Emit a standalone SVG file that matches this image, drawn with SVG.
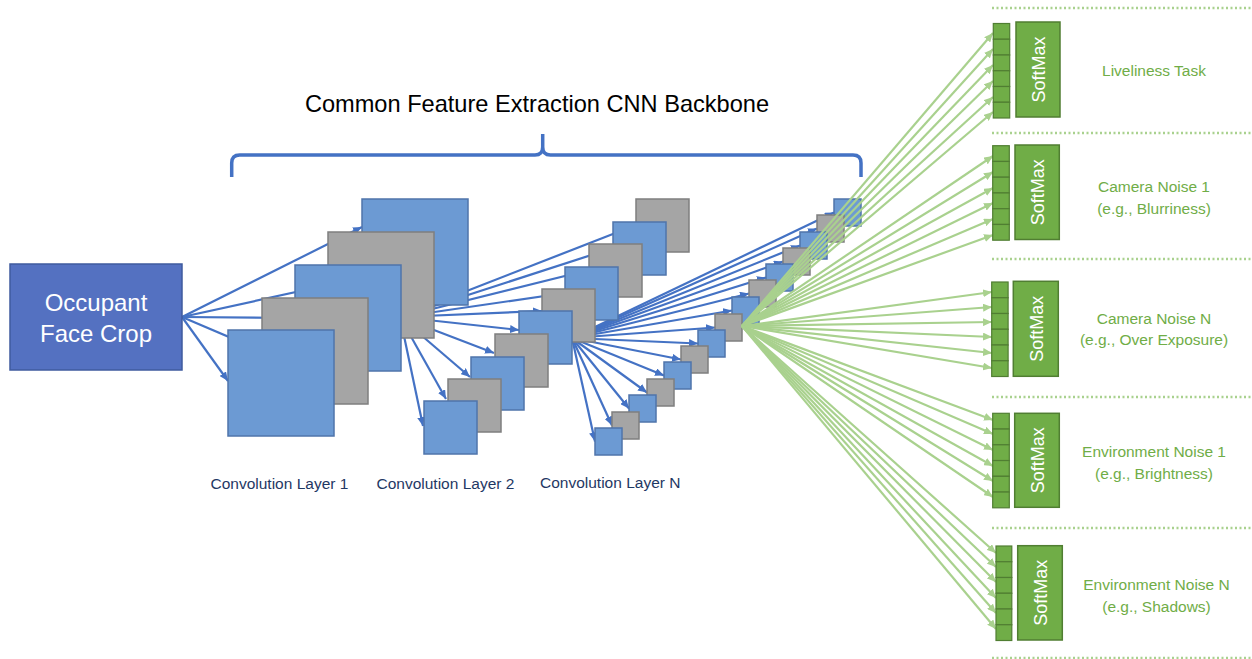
<svg xmlns="http://www.w3.org/2000/svg" width="1252" height="659" viewBox="0 0 1252 659">
<style>
.bsq{fill:#6C9AD3;stroke:#4F74AB;stroke-width:1.5}
.gsq{fill:#A5A5A5;stroke:#7F7F7F;stroke-width:1.5}
.bl{stroke:#4472C4;stroke-width:2.2;fill:none;marker-end:url(#ab)}
.gl{stroke:#A9D18E;stroke-width:2.2;fill:none;marker-end:url(#ag)}
.cell{fill:#70AD47;stroke:#507E32;stroke-width:1.2}
.sm{fill:#70AD47;stroke:#507E32;stroke-width:1.5}
.smt{font-family:"Liberation Sans",Arial,sans-serif;font-size:18px;fill:#fff;text-anchor:middle}
.lbl{font-family:"Liberation Sans",Arial,sans-serif;font-size:15.5px;fill:#70AD47;text-anchor:middle}
.sep{stroke:#A9D18E;stroke-width:2.5;stroke-dasharray:2 2.5}
.cl{font-family:"Liberation Sans",Arial,sans-serif;font-size:15.5px;fill:#1F3864}
</style>
<defs>
<marker id="ab" markerUnits="userSpaceOnUse" markerWidth="9" markerHeight="8" refX="9" refY="4" orient="auto"><path d="M0,0 L9,4 L0,8 z" fill="#4472C4"/></marker>
<marker id="ag" markerUnits="userSpaceOnUse" markerWidth="9" markerHeight="8" refX="9" refY="4" orient="auto"><path d="M0,0 L9,4 L0,8 z" fill="#A9D18E"/></marker>
</defs>
<rect width="1252" height="659" fill="#fff"/>

<g id="title">
<text x="537" y="112" font-family="Liberation Sans, Arial, sans-serif" font-size="23.6" fill="#000" text-anchor="middle">Common Feature Extraction CNN Backbone</text>
<path d="M231.7,177 V163 Q231.7,155 239.7,155 H535 Q542.7,155 542.7,147 V134 V147 Q542.7,155 550.4,155 H853 Q861,155 861,163 V177" fill="none" stroke="#4472C4" stroke-width="3.5"/>
</g>

<g id="connectors-blue">
<line class="bl" x1="182" y1="317" x2="362" y2="227"/>
<line class="bl" x1="182" y1="317" x2="328" y2="285"/>
<line class="bl" x1="182" y1="317" x2="295" y2="318"/>
<line class="bl" x1="182" y1="317" x2="262" y2="351"/>
<line class="bl" x1="182" y1="317" x2="228" y2="381"/>

<line class="bl" x1="400" y1="317" x2="636" y2="225"/>
<line class="bl" x1="400" y1="317" x2="613" y2="248"/>
<line class="bl" x1="400" y1="317" x2="589" y2="270"/>
<line class="bl" x1="400" y1="317" x2="565" y2="293"/>
<line class="bl" x1="400" y1="317" x2="542" y2="311"/>
<line class="bl" x1="400" y1="317" x2="519" y2="330"/>
<line class="bl" x1="400" y1="317" x2="494" y2="353"/>
<line class="bl" x1="400" y1="317" x2="470" y2="377"/>
<line class="bl" x1="400" y1="317" x2="446" y2="399"/>
<line class="bl" x1="400" y1="317" x2="423" y2="426"/>

<line class="bl" x1="572" y1="338" x2="834" y2="212.5"/>
<line class="bl" x1="572" y1="338" x2="817" y2="228.5"/>
<line class="bl" x1="572" y1="338" x2="800" y2="245.5"/>
<line class="bl" x1="572" y1="338" x2="783" y2="261.5"/>
<line class="bl" x1="572" y1="338" x2="766" y2="277.5"/>
<line class="bl" x1="572" y1="338" x2="749" y2="293.5"/>
<line class="bl" x1="572" y1="338" x2="732" y2="310.5"/>
<line class="bl" x1="572" y1="338" x2="715" y2="327.5"/>
<line class="bl" x1="572" y1="338" x2="698" y2="343.5"/>
<line class="bl" x1="572" y1="338" x2="681" y2="359.5"/>
<line class="bl" x1="572" y1="338" x2="664" y2="375.5"/>
<line class="bl" x1="572" y1="338" x2="647" y2="392.5"/>
<line class="bl" x1="572" y1="338" x2="629" y2="408.5"/>
<line class="bl" x1="572" y1="338" x2="612" y2="425.5"/>
<line class="bl" x1="572" y1="338" x2="595" y2="441.5"/>
</g>

<g id="input">
<rect x="10" y="264" width="172" height="106" fill="#5471C1" stroke="#3F5B9E" stroke-width="1.5"/>
<text x="96" y="311" font-family="Liberation Sans, Arial, sans-serif" font-size="24" fill="#fff" text-anchor="middle">Occupant</text>
<text x="96" y="342" font-family="Liberation Sans, Arial, sans-serif" font-size="24" fill="#fff" text-anchor="middle">Face Crop</text>
</g>

<g id="conv1">
<rect class="bsq" x="362" y="199" width="106" height="106"/>
<rect class="gsq" x="328" y="232" width="106" height="106"/>
<rect class="bsq" x="295" y="265" width="106" height="106"/>
<rect class="gsq" x="262" y="298" width="106" height="106"/>
<rect class="bsq" x="228" y="330" width="106" height="106"/>
<text class="cl" x="210.5" y="489">Convolution Layer 1</text>
</g>

<g id="conv2">
<rect class="gsq" x="636" y="199" width="53" height="53"/>
<rect class="bsq" x="613" y="222" width="53" height="53"/>
<rect class="gsq" x="589" y="244" width="53" height="53"/>
<rect class="bsq" x="565" y="267" width="53" height="53"/>
<rect class="gsq" x="542" y="289" width="53" height="53"/>
<rect class="bsq" x="519" y="311" width="53" height="53"/>
<rect class="gsq" x="495" y="334" width="53" height="53"/>
<rect class="bsq" x="471" y="357" width="53" height="53"/>
<rect class="gsq" x="448" y="379" width="53" height="53"/>
<rect class="bsq" x="424" y="401" width="53" height="53"/>
<text class="cl" x="376.5" y="489">Convolution Layer 2</text>
</g>

<g id="convN">
<rect class="bsq" x="834" y="199" width="27" height="27"/>
<rect class="gsq" x="817" y="215" width="27" height="27"/>
<rect class="bsq" x="800" y="232" width="27" height="27"/>
<rect class="gsq" x="783" y="248" width="27" height="27"/>
<rect class="bsq" x="766" y="264" width="27" height="27"/>
<rect class="gsq" x="749" y="280" width="27" height="27"/>
<rect class="bsq" x="732" y="297" width="27" height="27"/>
<rect class="gsq" x="715" y="314" width="27" height="27"/>
<rect class="bsq" x="698" y="330" width="27" height="27"/>
<rect class="gsq" x="681" y="346" width="27" height="27"/>
<rect class="bsq" x="664" y="362" width="27" height="27"/>
<rect class="gsq" x="647" y="379" width="27" height="27"/>
<rect class="bsq" x="629" y="395" width="27" height="27"/>
<rect class="gsq" x="612" y="412" width="27" height="27"/>
<rect class="bsq" x="595" y="428" width="27" height="27"/>
<text class="cl" x="540" y="488">Convolution Layer N</text>
</g>

<g id="separators">
<line class="sep" x1="992" y1="8" x2="1252" y2="8"/>
<line class="sep" x1="992" y1="133" x2="1252" y2="133"/>
<line class="sep" x1="992" y1="259" x2="1252" y2="259"/>
<line class="sep" x1="992" y1="397" x2="1252" y2="397"/>
<line class="sep" x1="992" y1="528" x2="1252" y2="528"/>
<line class="sep" x1="992" y1="658" x2="1252" y2="658"/>
</g>

<g id="connectors-green">
<line class="gl" x1="742" y1="326" x2="993" y2="33"/>
<line class="gl" x1="742" y1="326" x2="993" y2="49"/>
<line class="gl" x1="742" y1="326" x2="993" y2="65"/>
<line class="gl" x1="742" y1="326" x2="993" y2="81"/>
<line class="gl" x1="742" y1="326" x2="993" y2="97"/>
<line class="gl" x1="742" y1="326" x2="993" y2="112"/>
<line class="gl" x1="742" y1="326" x2="993" y2="156"/>
<line class="gl" x1="742" y1="326" x2="993" y2="172"/>
<line class="gl" x1="742" y1="326" x2="993" y2="188"/>
<line class="gl" x1="742" y1="326" x2="993" y2="203"/>
<line class="gl" x1="742" y1="326" x2="993" y2="219"/>
<line class="gl" x1="742" y1="326" x2="993" y2="235"/>
<line class="gl" x1="742" y1="326" x2="992" y2="292"/>
<line class="gl" x1="742" y1="326" x2="992" y2="307"/>
<line class="gl" x1="742" y1="326" x2="992" y2="322"/>
<line class="gl" x1="742" y1="326" x2="992" y2="337"/>
<line class="gl" x1="742" y1="326" x2="992" y2="353"/>
<line class="gl" x1="742" y1="326" x2="992" y2="368"/>
<line class="gl" x1="742" y1="326" x2="993" y2="420"/>
<line class="gl" x1="742" y1="326" x2="993" y2="434"/>
<line class="gl" x1="742" y1="326" x2="993" y2="450"/>
<line class="gl" x1="742" y1="326" x2="993" y2="466"/>
<line class="gl" x1="742" y1="326" x2="993" y2="481"/>
<line class="gl" x1="742" y1="326" x2="993" y2="497"/>
<line class="gl" x1="742" y1="326" x2="996" y2="553"/>
<line class="gl" x1="742" y1="326" x2="996" y2="567"/>
<line class="gl" x1="742" y1="326" x2="996" y2="582"/>
<line class="gl" x1="742" y1="326" x2="996" y2="598"/>
<line class="gl" x1="742" y1="326" x2="996" y2="613"/>
<line class="gl" x1="742" y1="326" x2="996" y2="629"/>
</g>

<g id="head1">
<rect class="cell" x="993.3" y="23.5" width="16.4" height="15.75"/>
<rect class="cell" x="993.3" y="39.25" width="16.4" height="15.75"/>
<rect class="cell" x="993.3" y="55" width="16.4" height="15.75"/>
<rect class="cell" x="993.3" y="70.75" width="16.4" height="15.75"/>
<rect class="cell" x="993.3" y="86.5" width="16.4" height="15.75"/>
<rect class="cell" x="993.3" y="102.25" width="16.4" height="15.75"/>
<rect class="sm" x="1016" y="22" width="44" height="95"/>
<text class="smt" transform="translate(1045,69.5) rotate(-90)">SoftMax</text>
<text class="lbl" x="1154" y="76">Liveliness Task</text>
</g>

<g id="head2">
<rect class="cell" x="992.7" y="145.7" width="16.6" height="15.75"/>
<rect class="cell" x="992.7" y="161.45" width="16.6" height="15.75"/>
<rect class="cell" x="992.7" y="177.2" width="16.6" height="15.75"/>
<rect class="cell" x="992.7" y="192.95" width="16.6" height="15.75"/>
<rect class="cell" x="992.7" y="208.7" width="16.6" height="15.75"/>
<rect class="cell" x="992.7" y="224.45" width="16.6" height="15.75"/>
<rect class="sm" x="1015" y="145" width="44.3" height="94.5"/>
<text class="smt" transform="translate(1044.2,192.3) rotate(-90)">SoftMax</text>
<text class="lbl" x="1154" y="192">Camera Noise 1</text>
<text class="lbl" x="1154" y="213.5">(e.g., Blurriness)</text>
</g>

<g id="head3">
<rect class="cell" x="991.7" y="282" width="16.4" height="15.75"/>
<rect class="cell" x="991.7" y="297.75" width="16.4" height="15.75"/>
<rect class="cell" x="991.7" y="313.5" width="16.4" height="15.75"/>
<rect class="cell" x="991.7" y="329.25" width="16.4" height="15.75"/>
<rect class="cell" x="991.7" y="345" width="16.4" height="15.75"/>
<rect class="cell" x="991.7" y="360.75" width="16.4" height="15.75"/>
<rect class="sm" x="1013.3" y="281.3" width="45" height="95"/>
<text class="smt" transform="translate(1042.8,328.8) rotate(-90)">SoftMax</text>
<text class="lbl" x="1154" y="323.5">Camera Noise N</text>
<text class="lbl" x="1154" y="345">(e.g., Over Exposure)</text>
</g>

<g id="head4">
<rect class="cell" x="992.7" y="413.3" width="16.6" height="15.75"/>
<rect class="cell" x="992.7" y="429.05" width="16.6" height="15.75"/>
<rect class="cell" x="992.7" y="444.8" width="16.6" height="15.75"/>
<rect class="cell" x="992.7" y="460.55" width="16.6" height="15.75"/>
<rect class="cell" x="992.7" y="476.3" width="16.6" height="15.75"/>
<rect class="cell" x="992.7" y="492.05" width="16.6" height="15.75"/>
<rect class="sm" x="1014.7" y="413.3" width="44.6" height="94"/>
<text class="smt" transform="translate(1044,460.3) rotate(-90)">SoftMax</text>
<text class="lbl" x="1154" y="457">Environment Noise 1</text>
<text class="lbl" x="1154" y="478.5">(e.g., Brightness)</text>
</g>

<g id="head5">
<rect class="cell" x="996" y="546" width="15.8" height="15.75"/>
<rect class="cell" x="996" y="561.75" width="15.8" height="15.75"/>
<rect class="cell" x="996" y="577.5" width="15.8" height="15.75"/>
<rect class="cell" x="996" y="593.25" width="15.8" height="15.75"/>
<rect class="cell" x="996" y="609" width="15.8" height="15.75"/>
<rect class="cell" x="996" y="624.75" width="15.8" height="15.75"/>
<rect class="sm" x="1017.7" y="545.7" width="44.6" height="94.3"/>
<text class="smt" transform="translate(1047,592.8) rotate(-90)">SoftMax</text>
<text class="lbl" x="1156.5" y="590">Environment Noise N</text>
<text class="lbl" x="1156.5" y="611.5">(e.g., Shadows)</text>
</g>
</svg>
